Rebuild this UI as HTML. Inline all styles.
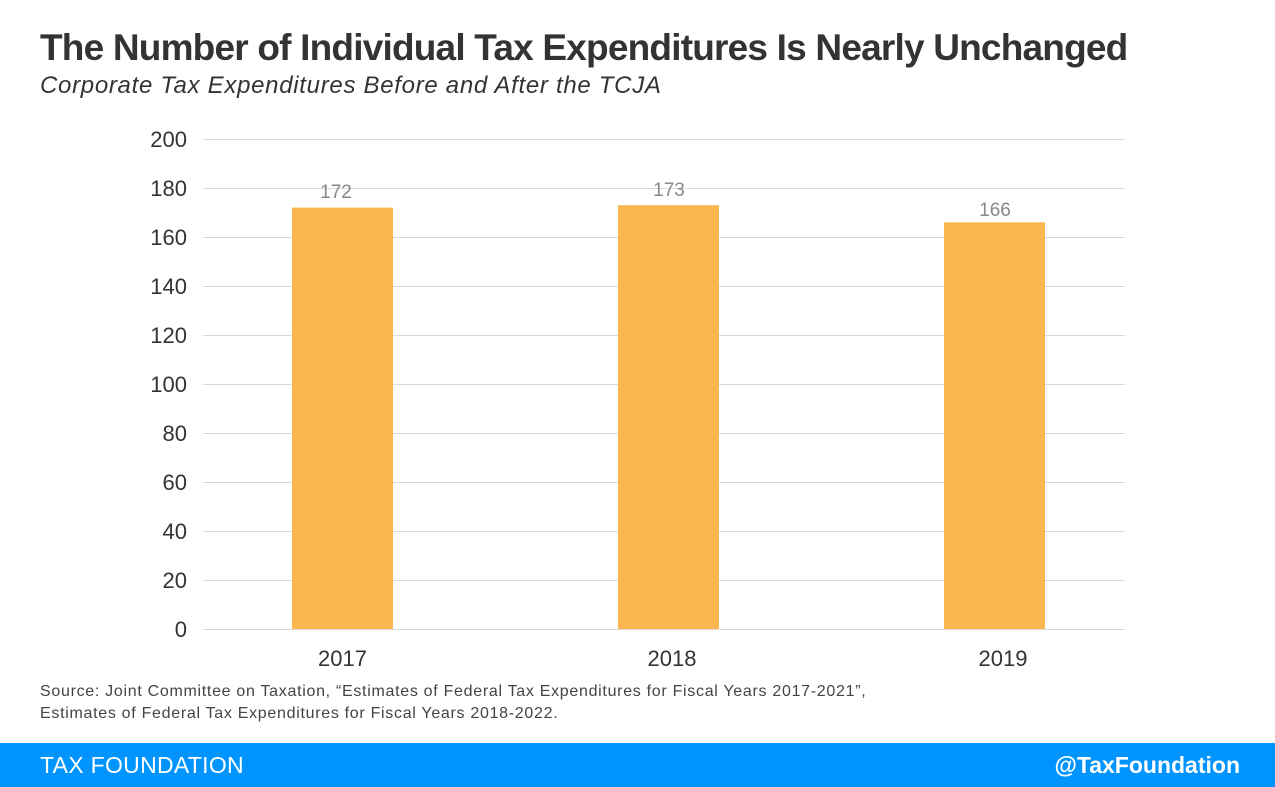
<!DOCTYPE html>
<html><head><meta charset="utf-8"><style>
body{margin:0;width:1275px;height:787px;background:#fff;font-family:"Liberation Sans",sans-serif;position:relative;overflow:hidden}
.t{position:absolute;left:40px;top:27px;font-size:37px;font-weight:bold;color:#333;letter-spacing:-0.8px}
.s{position:absolute;left:40px;top:72px;font-size:24px;font-style:italic;color:#333;letter-spacing:0.7px}
.src{position:absolute;left:40px;top:681px;font-size:16px;color:#444;line-height:22px;letter-spacing:0.7px}
.f{position:absolute;left:0;top:743px;width:1275px;height:44px;background:#0094ff;color:#fff;font-size:23px}
</style></head><body>
<div class="t">The Number of Individual Tax Expenditures Is Nearly Unchanged</div>
<div class="s">Corporate Tax Expenditures Before and After the TCJA</div>
<svg width="1275" height="787" style="position:absolute;left:0;top:0" font-family="Liberation Sans, sans-serif">
<g stroke="#d9d9d9" stroke-width="1">
<line x1="203" x2="1125" y1="139.5" y2="139.5"/><line x1="203" x2="1125" y1="188.5" y2="188.5"/>
<line x1="203" x2="1125" y1="237.5" y2="237.5"/><line x1="203" x2="1125" y1="286.5" y2="286.5"/>
<line x1="203" x2="1125" y1="335.5" y2="335.5"/><line x1="203" x2="1125" y1="384.5" y2="384.5"/>
<line x1="203" x2="1125" y1="433.5" y2="433.5"/><line x1="203" x2="1125" y1="482.5" y2="482.5"/>
<line x1="203" x2="1125" y1="531.5" y2="531.5"/><line x1="203" x2="1125" y1="580.5" y2="580.5"/>
<line x1="203" x2="1125" y1="629.5" y2="629.5"/>
</g>
<g fill="#333" font-size="22" text-anchor="end">
<text x="187" y="147">200</text><text x="187" y="196">180</text><text x="187" y="245">160</text>
<text x="187" y="294">140</text><text x="187" y="343">120</text><text x="187" y="392">100</text>
<text x="187" y="441">80</text><text x="187" y="490">60</text><text x="187" y="539">40</text>
<text x="187" y="588">20</text><text x="187" y="637">0</text>
</g>
<g fill="#fbb650">
<rect x="292" y="207.6" width="101" height="421.4"/>
<rect x="618" y="205.2" width="101" height="423.8"/>
<rect x="944" y="222.3" width="101" height="406.7"/>
</g>
<g fill="#888" font-size="19" text-anchor="middle">
<text x="336" y="198">172</text><text x="669" y="196">173</text><text x="995" y="216">166</text>
</g>
<g fill="#333" font-size="22" text-anchor="middle">
<text x="342.5" y="666">2017</text><text x="672" y="666">2018</text><text x="1003" y="666">2019</text>
</g>
</svg>
<div class="src">Source: Joint Committee on Taxation, “Estimates of Federal Tax Expenditures for Fiscal Years 2017-2021”,<br>Estimates of Federal Tax Expenditures for Fiscal Years 2018-2022.</div>
<div class="f"><span style="position:absolute;left:40px;top:9px;letter-spacing:0.3px">TAX FOUNDATION</span><span style="position:absolute;right:35px;top:9px;font-weight:bold">@TaxFoundation</span></div>
</body></html>
